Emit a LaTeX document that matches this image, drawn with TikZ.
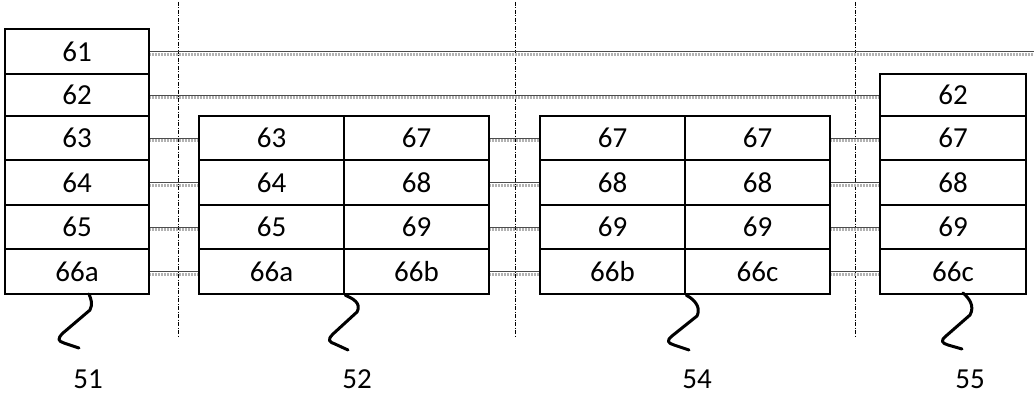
\documentclass[tikz,border=0pt]{standalone}
\usepackage{fontspec}
\setmainfont{Carlito}
\begin{document}
\begin{tikzpicture}[x=1pt,y=-1pt,
  cell/.style={draw=black, line width=2.6pt, inner sep=0pt, font=\fontsize{29}{31}\selectfont},
  conn/.style={draw=black!70, line width=0.8pt,
    postaction={draw=black!30, line width=3pt, dash pattern=on 0.6pt off 0.9pt, transform canvas={yshift=-2.6pt}}},
  sepline/.style={draw=black, line width=0.8pt, dash pattern=on 4pt off 1.5pt on 1pt off 1.5pt},
  squig/.style={draw=black, line width=3pt, line cap=round, line join=round},
  lbl/.style={font=\fontsize{29}{31}\selectfont, inner sep=0pt}]
\useasboundingbox (0,0) rectangle (1034,396);

% dashed separators
\draw[sepline] (178,2) -- (178,337);
\draw[sepline] (515,2) -- (515,337);
\draw[sepline] (855,2) -- (855,337);

% stack 51 top rows
\node[cell, minimum width=144pt, minimum height=45pt] (s61) at (77,51.5) {61};
\node[cell, minimum width=144pt, minimum height=42pt] (s62) at (77,95) {62};
% stack 55 top row
\node[cell, minimum width=146pt, minimum height=42pt] (f62) at (953,95) {62};

\coordinate (e61) at (1034,0);

\foreach \i/\yc/\h/\ta/\tb/\tc in {
  1/138/44/63/67/67,
  2/182.5/45/64/68/68,
  3/227/44/65/69/69,
  4/271.5/45/66a/66b/66c}{
  \node[cell, minimum width=144pt, minimum height=\h pt] (s\i) at (77,\yc) {\ta};
  \node[cell, minimum width=145pt, minimum height=\h pt] (p\i) at (271.5,\yc) {\ta};
  \node[cell, minimum width=145pt, minimum height=\h pt] (q\i) at (416.5,\yc) {\tb};
  \node[cell, minimum width=145pt, minimum height=\h pt] (u\i) at (612.5,\yc) {\tb};
  \node[cell, minimum width=145pt, minimum height=\h pt] (v\i) at (757.5,\yc) {\tc};
  \node[cell, minimum width=146pt, minimum height=\h pt] (f\i) at (953,\yc) {\tc};
  \draw[conn] (s\i) -- (p\i);
  \draw[conn] (q\i) -- (u\i);
  \draw[conn] (v\i) -- (f\i);
}

% long lines for 61 and 62
\draw[conn] (s61.east) -- (s61.east -| e61);
\draw[conn] (s62) -- (f62);

% squiggles
\coordinate (z51) at (89,294);
\coordinate (z55) at (963,293);
\draw[squig] (z51) .. controls (91,299) and (93,304) .. (90,310) -- (63,333)
  .. controls (57,339) and (58,341) .. (64,343) -- (79,348);
\draw[squig] (p4.south east) .. controls (352,298) and (362,303) .. (357,312) -- (333,334)
  .. controls (327,340) and (329,342) .. (335,344) -- (348,350);
\draw[squig] (u4.south east) .. controls (692,298) and (702,306) .. (697,316) -- (672,336)
  .. controls (666,341) and (668,343) .. (674,345) -- (689,350);
\draw[squig] (z55) .. controls (969,298) and (975,306) .. (970,315) -- (946,336)
  .. controls (940,341) and (942,343) .. (948,345) -- (962,349);

% labels
\node[lbl] (l51) at (88,379) {51};
\node[lbl] (l52) at (357,379) {52};
\node[lbl] (l54) at (697,379) {54};
\node[lbl] (l55) at (970,379) {55};
\end{tikzpicture}
\end{document}
